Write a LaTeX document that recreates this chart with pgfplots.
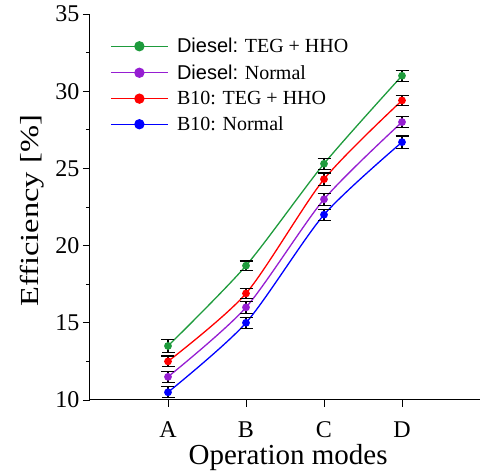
\documentclass[border=0pt]{standalone}
\usepackage{fontspec}
\setmainfont{Liberation Serif}
\newfontfamily\arial{Liberation Sans}
\usepackage{pgfplots}
\pgfplotsset{compat=1.18}

\definecolor{cgreen}{RGB}{30,155,60}
\definecolor{cpurple}{RGB}{150,30,210}
\definecolor{cred}{RGB}{255,0,0}
\definecolor{cblue}{RGB}{0,0,255}

\begin{document}
\begin{tikzpicture}[x=1pt,y=1pt]
\begin{axis}[
    scale only axis,
    width=390pt, height=386pt,
    xmin=0, xmax=5,
    ymin=10, ymax=35,
    axis x line*=bottom,
    axis y line*=left,
    axis line style={line width=1pt},
    xtick={1,2,3,4},
    xticklabels={A,B,C,D},
    ytick={10,15,...,35},
    minor ytick={12.5,17.5,...,32.5},
    tick align=outside,
    major tick length=7pt,
    minor tick length=4pt,
    tick style={black, line width=0.8pt},
    /pgf/number format/assume math mode=true,
    ticklabel style={font=\fontsize{24}{27}\selectfont},
    xticklabel style={yshift=-11pt},
    xlabel={Operation modes},
    ylabel={\scalebox{1.25}[1]{Efficiency [\%]}},
    xlabel style={font=\fontsize{29}{32}\selectfont,
        at={(axis description cs:0.508,-0.148)}, anchor=center},
    ylabel style={font=\fontsize{26}{29}\selectfont,
        at={(axis description cs:-0.149,0.49)}, anchor=center},
    legend style={draw=none, fill=none, at={(0.045,0.948)}, anchor=north west,
        font=\fontsize{20}{23}\selectfont, row sep=6.5pt,
        /tikz/every odd column/.append style={column sep=6pt}},
    legend cell align=left,
    legend image code/.code={
        \draw[line width=1.3pt, mark repeat=2, mark phase=2, mark size=4.5pt]
            plot coordinates {(0pt,0pt) (28pt,0pt) (57pt,0pt)};
    },
    every axis plot/.append style={line width=1.3pt, smooth, tension=0.45},
    error bars/error bar style={black, line width=1.1pt},
    error bars/error mark options={rotate=90, mark size=6.5pt, black, line width=1.1pt},
]
\addplot[cgreen, mark=*, mark size=3.2pt,
    error bars/.cd, y dir=both, y explicit]
    coordinates {(1,13.5) +- (0,0.4) (2,18.7) +- (0,0.3) (3,25.3) +- (0,0.35) (4,31.0) +- (0,0.35)};
\addlegendentry{{\arial Diesel:} TEG + HHO}
\addplot[cpurple, mark=*, mark size=3.2pt,
    error bars/.cd, y dir=both, y explicit]
    coordinates {(1,11.5) +- (0,0.35) (2,16.0) +- (0,0.4) (3,23.0) +- (0,0.4) (4,28.0) +- (0,0.35)};
\addlegendentry{{\arial Diesel:} Normal}
\addplot[cred, mark=*, mark size=3.2pt,
    error bars/.cd, y dir=both, y explicit]
    coordinates {(1,12.5) +- (0,0.35) (2,16.9) +- (0,0.35) (3,24.3) +- (0,0.4) (4,29.4) +- (0,0.35)};
\addlegendentry{B10: TEG + HHO}
\addplot[cblue, mark=*, mark size=3.2pt,
    error bars/.cd, y dir=both, y explicit]
    coordinates {(1,10.5) +- (0,0.35) (2,15.0) +- (0,0.35) (3,22.0) +- (0,0.35) (4,26.7) +- (0,0.4)};
\addlegendentry{B10: Normal}
\end{axis}
\useasboundingbox (-90pt,-76pt) rectangle (392pt,400pt);
\end{tikzpicture}
\end{document}
